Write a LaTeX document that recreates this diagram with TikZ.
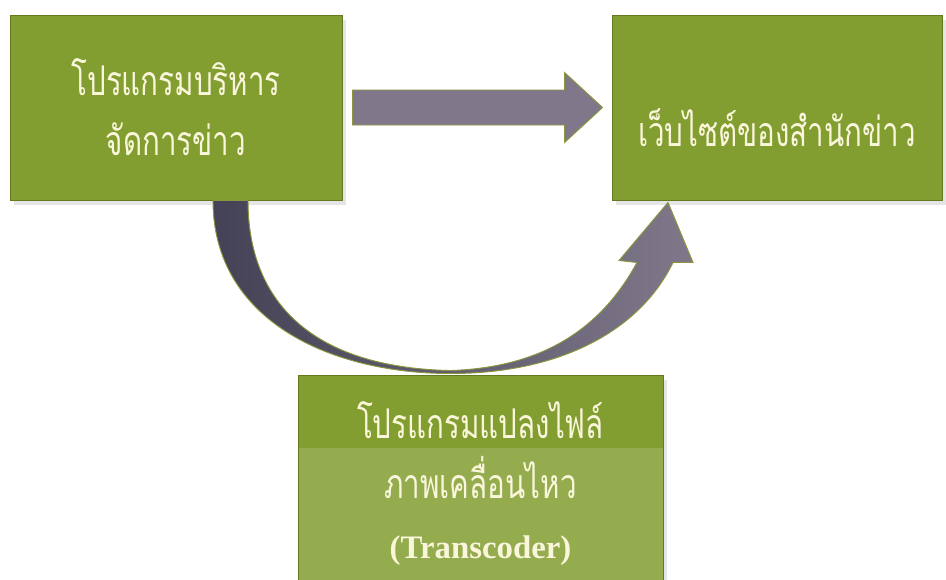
\documentclass[tikz,border=0pt]{standalone}
\usepackage{fontspec}
\setmainfont{Liberation Serif}
\newfontfamily\thaifont[Script=Thai,FakeStretch=0.72]{Loma}
\usepackage{tikz}
\usetikzlibrary{shapes,arrows,shadows,calc}
\definecolor{boxgreen}{RGB}{130,158,48}
\definecolor{boxedge}{RGB}{100,122,30}
\definecolor{textcream}{RGB}{250,246,220}
\definecolor{arrowgray}{RGB}{128,120,138}
\definecolor{arrowdark}{RGB}{68,66,86}
\definecolor{arrowedge}{RGB}{140,150,60}
\tikzstyle{newsbox} = [draw=boxedge,line width=0.8pt,fill=boxgreen,rectangle,align=center,
    drop shadow={shadow xshift=3pt,shadow yshift=-4pt,opacity=0.2},
    font=\thaifont\fontsize{35}{51}\selectfont,text=textcream]
\tikzstyle{newstext} = [align=center,font=\thaifont\fontsize{35}{51}\selectfont,text=textcream]
\tikzstyle{blockarrow} = [draw=arrowedge,line width=0.8pt,fill=arrowgray]

\begin{document}
\begin{tikzpicture}[x=0.03cm,y=-0.03cm]
    \useasboundingbox (0,0) rectangle (946,579);
    \clip (0,0) rectangle (946,579);
    \fill[white] (0,0) rectangle (946,579);
    % the three program / site boxes
    \node[newsbox,minimum width=9.96cm,minimum height=5.55cm]
        (manage) at (176,107.5) {โปรแกรมบริหาร\\จัดการข่าว};
    \node[newsbox,minimum width=9.9cm,minimum height=5.55cm]
        (website) at (777,107.5) {};
    \node[newstext] (websitetext) at ([yshift=-0.6cm]website.center) {เว็บไซต์ของสำนักข่าว};
    \node[newsbox,minimum width=10.95cm,minimum height=6.75cm,
        path picture={\fill[white,opacity=0.15] ([yshift=-2.19cm]path picture bounding box.north west)
            rectangle (path picture bounding box.south east);}]
        (transcoder) at (480.5,487.5) {};
    \node[newstext] (transcodertext) at ([yshift=0.12cm]transcoder.center)
        {โปรแกรมแปลงไฟล์\\ภาพเคลื่อนไหว\\{\rmfamily\bfseries\fontsize{28}{51}\selectfont (Transcoder)}};
    % straight arrow
    \draw[blockarrow] ($(manage.east)+(10,-17.5)$) -- ($(website.west)+(-47,-17.5)$)
        -- ($(website.west)+(-47,-35)$) -- ($(website.west)+(-9,0)$)
        -- ($(website.west)+(-47,35)$) -- ($(website.west)+(-47,17.5)$)
        -- ($(manage.east)+(10,17.5)$) -- cycle;
    % curved arrow through the transcoder
    \coordinate (cA) at ($(manage.south)+(37,0)$);
    \coordinate (cB) at ($(manage.south)+(72,0)$);
    \coordinate (cLow) at ($(transcoder.north)+(-30,-1)$);
    \coordinate (cTip) at ($(website.south)+(-109,2)$);
    \shade[left color=arrowdark,right color=arrowgray,draw=arrowedge,line width=0.8pt]
        (cA) .. controls +(0,120) and +(-120,0) .. (cLow)
        .. controls +(110,0) and +(-33,68) .. ($(cTip)+(5,60)$)
        -- ($(cTip)+(25,60)$) -- (cTip) -- ($(cTip)+(-49,58)$) -- ($(cTip)+(-31,60)$)
        .. controls +(-37,68) and +(90,-3) .. ($(cLow)+(0,-3)$)
        .. controls +(-140,-3) and +(0,100) .. (cB) -- cycle;
\end{tikzpicture}
\end{document}
